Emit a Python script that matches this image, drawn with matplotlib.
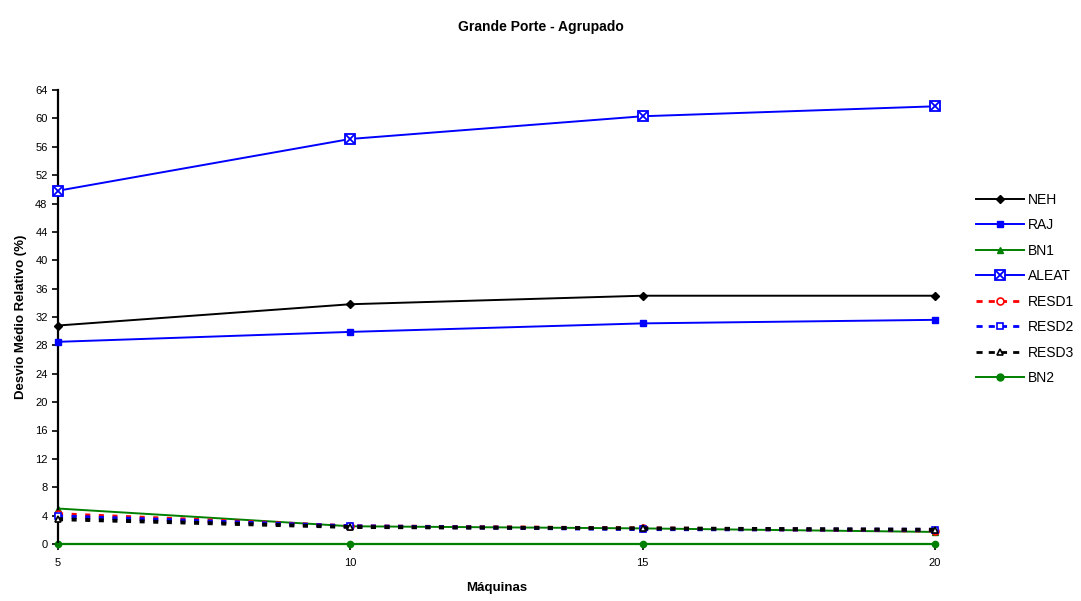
import matplotlib
matplotlib.use("Agg")
import matplotlib.pyplot as plt
from matplotlib.lines import Line2D
from matplotlib.legend_handler import HandlerTuple

plt.rcParams['font.family'] = ['Liberation Sans', 'DejaVu Sans']

maquinas = [5, 10, 15, 20]
neh = [30.8, 33.8, 35.0, 35.0]
raj = [28.5, 29.9, 31.1, 31.6]
bn1 = [5.0, 2.5, 2.2, 1.7]
aleat = [49.8, 57.1, 60.3, 61.7]
resd1 = [4.2, 2.5, 2.2, 1.9]
resd2 = [3.9, 2.5, 2.1, 2.0]
resd3 = [3.5, 2.4, 2.2, 2.0]
bn2 = [0.0, 0.0, 0.0, 0.0]
y_ticks = list(range(0, 65, 4))

GREEN = '#008000'
BLUE = '#0000ff'
RED = '#ff0000'

fig = plt.figure(figsize=(10.81, 6.01), dpi=100)
ax = fig.add_axes([58 / 1081, 57 / 601, (935 - 58) / 1081, (544 - 90) / 601])

dash = (0, (1.3, 2.2))
common = dict(clip_on=False)
ax.plot(maquinas, bn2, color=GREEN, lw=1.4, marker='o', ms=4.5, zorder=2, **common)
ax.plot(maquinas, bn1, color=GREEN, lw=1.4, marker='^', ms=4.5, zorder=2, **common)
ax.plot(maquinas, resd1, color=RED, lw=2.8, ls=dash, marker='o', ms=5,
        mfc='white', mec=RED, mew=1.2, zorder=3, **common)
ax.plot(maquinas, resd2, color=BLUE, lw=2.8, ls=dash, marker='s', ms=5,
        mfc='white', mec=BLUE, mew=1.2, zorder=3, **common)
ax.plot(maquinas, resd3, color='black', lw=2.8, ls=dash, marker='^', ms=5,
        mfc='white', mec='black', mew=1.2, zorder=3, **common)
ax.plot(maquinas, raj, color=BLUE, lw=1.4, marker='s', ms=5, zorder=4, **common)
ax.plot(maquinas, neh, color='black', lw=1.4, marker='D', ms=4.5, zorder=4, **common)
ax.plot(maquinas, aleat, color=BLUE, lw=1.4, marker='s', ms=7, mfc='white',
        mec=BLUE, mew=1.3, zorder=4, **common)
ax.plot(maquinas, aleat, color='none', lw=0, marker='x', ms=5.5, mec=BLUE, mew=1.3,
        zorder=5, **common)

ax.set_xlim(5, 20)
ax.set_ylim(0, 64)
ax.set_xticks(maquinas)
ax.set_yticks(y_ticks)
ax.tick_params(axis='both', labelsize=8, direction='out', length=4, width=1.2, color='black')
ax.tick_params(axis='x', pad=6)
for s in ['top', 'right']:
    ax.spines[s].set_visible(False)
ax.spines['left'].set_linewidth(1.6)
ax.spines['bottom'].set_linewidth(1.6)
ax.spines['bottom'].set_color(GREEN)

ax.set_xlabel('Máquinas', fontsize=9.5, fontweight='bold', labelpad=10)
ax.set_ylabel('Desvio Médio Relativo (%)', fontsize=9.5, fontweight='bold', labelpad=6)
fig.text(0.5, 1 - 27 / 601, 'Grande Porte - Agrupado', ha='center', va='center',
         fontsize=10, fontweight='bold')

ldash = (0, (2.2, 2.2))
aleat_box = Line2D([], [], color=BLUE, lw=1.4, marker='s', ms=7, mfc='white', mec=BLUE, mew=1.3)
aleat_x = Line2D([], [], color='none', lw=0, marker='x', ms=5.5, mec=BLUE, mew=1.3)
handles = [
    Line2D([], [], color='black', lw=1.4, marker='D', ms=4),
    Line2D([], [], color=BLUE, lw=1.4, marker='s', ms=5),
    Line2D([], [], color=GREEN, lw=1.4, marker='^', ms=5),
    (aleat_box, aleat_x),
    Line2D([], [], color=RED, lw=2, ls=ldash, marker='o', ms=5, mfc='white', mew=1.2),
    Line2D([], [], color=BLUE, lw=2, ls=ldash, marker='s', ms=5, mfc='white', mew=1.2),
    Line2D([], [], color='black', lw=2, ls=ldash, marker='^', ms=5, mfc='white', mew=1.2),
    Line2D([], [], color=GREEN, lw=1.4, marker='o', ms=5),
]
labels = ['NEH', 'RAJ', 'BN1', 'ALEAT', 'RESD1', 'RESD2', 'RESD3', 'BN2']
fig.legend(handles, labels, loc='center left', bbox_to_anchor=(976 / 1081, 1 - 289 / 601),
           frameon=False, fontsize=10, handlelength=3.45, handletextpad=0.3,
           labelspacing=0.83, borderaxespad=0, borderpad=0,
           handler_map={tuple: HandlerTuple(ndivide=1)})

fig.savefig('out.png', dpi=100)
